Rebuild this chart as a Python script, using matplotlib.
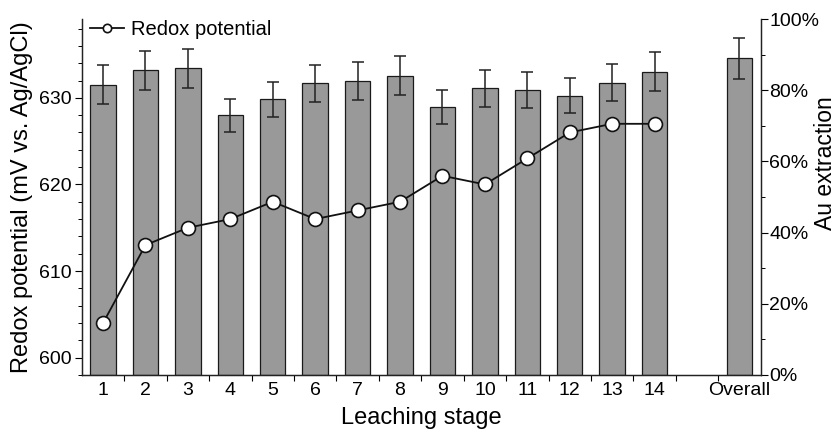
import matplotlib
matplotlib.use("Agg")
import matplotlib.pyplot as plt
from matplotlib.ticker import MultipleLocator, FixedLocator, PercentFormatter

plt.rcParams['font.family'] = ['Liberation Sans', 'DejaVu Sans']

# data
stages = ["1", "2", "3", "4", "5", "6", "7", "8", "9", "10", "11", "12", "13", "14", "Overall"]
stage_pos = [1, 2, 3, 4, 5, 6, 7, 8, 9, 10, 11, 12, 13, 14, 16]
au_extraction = [81.5, 85.6, 86.1, 72.9, 77.4, 82.0, 82.6, 84.1, 75.3, 80.5, 80.1, 78.5, 82.1, 85.2, 89.0]
au_error = [5.5, 5.5, 5.5, 4.6, 5.0, 5.2, 5.3, 5.4, 4.7, 5.2, 5.0, 5.0, 5.2, 5.4, 5.8]
redox = [604, 613, 615, 616, 618, 616, 617, 618, 621, 620, 623, 626, 627, 627]

fig = plt.figure(figsize=(8.35, 4.32), dpi=100)
ax = fig.add_axes([0.098, 0.132, 0.813, 0.824])
ax2 = ax.twinx()

# bars (Au extraction) on right axis
ax2.bar(stage_pos, au_extraction, width=0.6, color="#999999", edgecolor="#1a1a1a",
        linewidth=0.9, yerr=au_error, capsize=4,
        error_kw=dict(ecolor="#222222", elinewidth=1.1, capthick=1.1))
ax2.set_ylim(0, 100)
ax2.yaxis.set_major_locator(MultipleLocator(20))
ax2.yaxis.set_minor_locator(MultipleLocator(10))
ax2.yaxis.set_major_formatter(PercentFormatter(decimals=0))
ax2.set_ylabel("Au extraction", fontsize=16.5)
ax2.yaxis.set_label_coords(1.078, 0.595)

# redox line on left axis, drawn over bars
ax.set_zorder(ax2.get_zorder() + 1)
ax.patch.set_visible(False)
ax.plot(stage_pos[:14], redox, color="#111111", linewidth=1.3, marker="o",
        markersize=10, markerfacecolor="white", markeredgecolor="#111111",
        markeredgewidth=1.2, label="Redox potential")
ax.set_ylim(598, 639.1)
ax.yaxis.set_major_locator(MultipleLocator(10))
ax.yaxis.set_minor_locator(MultipleLocator(2))
ax.set_ylabel("Redox potential (mV vs. Ag/AgCl)", fontsize=17, labelpad=5)

ax.set_xlim(0.5, 16.5)
ax.set_xticks(stage_pos)
ax.set_xticklabels(stages)
ax.xaxis.set_minor_locator(FixedLocator([i + 0.5 for i in range(1, 16)]))
ax.tick_params(axis="x", which="major", length=0, pad=5)
ax.tick_params(axis="x", which="minor", length=4, width=0.8, direction="out")
ax.set_xlabel("Leaching stage", fontsize=17, labelpad=6)

for a in (ax, ax2):
    a.spines["top"].set_visible(False)
    for s in a.spines.values():
        s.set_linewidth(0.9)
        s.set_color("#222222")
ax.tick_params(axis="y", which="major", length=5, width=0.8, labelsize=14, pad=2)
ax.tick_params(axis="y", which="minor", length=3, width=0.7)
ax.tick_params(axis="x", labelsize=14)
ax2.tick_params(axis="y", which="major", length=5, width=0.8, labelsize=14, pad=1)
ax2.tick_params(axis="y", which="minor", length=3, width=0.7)

ax.legend(loc="upper left", frameon=False, fontsize=14.5, markerscale=0.6,
          handlelength=1.7, handletextpad=0.35, borderaxespad=0.0,
          bbox_to_anchor=(0.0, 1.02))

fig.savefig("out.png", dpi=100)
